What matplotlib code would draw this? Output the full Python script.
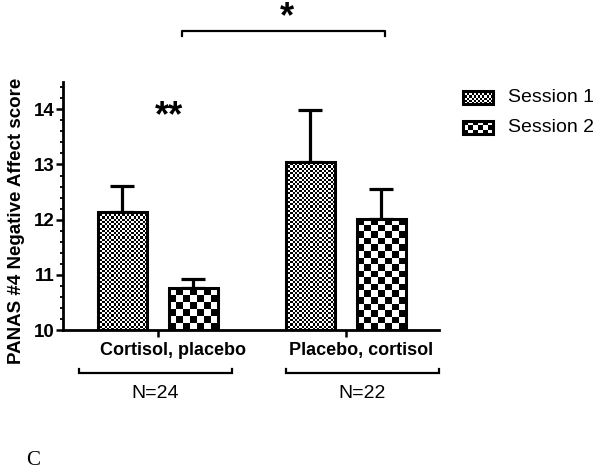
import numpy as np
import matplotlib
matplotlib.use('Agg')
from matplotlib import pyplot as plt
from matplotlib.patches import Rectangle
from matplotlib.ticker import MultipleLocator

groups = ['Cortisol, placebo', 'Placebo, cortisol']
group_n = ['N=24', 'N=22']
session1_mean = [12.13, 13.05]
session1_sem = [0.48, 0.93]
session2_mean = [10.76, 12.02]
session2_sem = [0.16, 0.53]
series_labels = ['Session 1', 'Session 2']

plt.rcParams['font.family'] = ['Liberation Sans', 'DejaVu Sans']

fig = plt.figure(figsize=(6.01, 4.73), dpi=100)
ax = fig.add_axes([63 / 601, 143 / 473, 376 / 601, 248.3 / 473])
ax.set_xlim(-0.505, 1.495)
ax.set_ylim(10, 14.5)
ax.set_autoscale_on(False)


def checker(ax, patch, cell_px, transform, zorder=2):
    # checkerboard fill clipped to a rectangle, cell size in pixels
    x0, y0 = patch.get_x(), patch.get_y()
    w, h = patch.get_width(), patch.get_height()
    p0 = transform.transform((x0, y0))
    p1 = transform.transform((x0 + w, y0 + h))
    nx = max(1, int(round(abs(p1[0] - p0[0]) / cell_px)))
    ny = max(1, int(round(abs(p1[1] - p0[1]) / cell_px)))
    ii, jj = np.meshgrid(np.arange(nx), np.arange(ny))
    arr = (ii + jj) % 2
    im = ax.imshow(arr, cmap='gray', vmin=0, vmax=1, interpolation='nearest',
                   extent=(x0, x0 + w, y0, y0 + h), origin='lower',
                   transform=transform, aspect='auto', zorder=zorder)
    im.set_clip_path(patch)
    return im


x = np.arange(len(groups))
width = 0.26
offset = 0.189
cells = [2.2, 6.7]

for k, (means, sems) in enumerate([(session1_mean, session1_sem),
                                   (session2_mean, session2_sem)]):
    pos = x + (offset if k else -offset)
    bars = ax.bar(pos, np.array(means) - 10, width=width, bottom=10,
                  facecolor='none', edgecolor='black', linewidth=2.2, zorder=3)
    for b in bars:
        checker(ax, b, cells[k], ax.transData)
    ax.errorbar(pos, means, yerr=[np.zeros(len(sems)), sems], fmt='none',
                ecolor='black', elinewidth=2.3, capsize=8.5, capthick=2.3, zorder=1)

ax.spines['top'].set_visible(False)
ax.spines['right'].set_visible(False)
ax.spines['left'].set_linewidth(2)
ax.spines['bottom'].set_linewidth(2)
ax.yaxis.set_major_locator(MultipleLocator(1))
ax.yaxis.set_minor_locator(MultipleLocator(0.2))
ax.tick_params(axis='y', which='major', length=5, width=1.8, labelsize=13.5, pad=1)
ax.tick_params(axis='y', which='minor', length=2.5, width=1.3)
for t in ax.get_yticklabels():
    t.set_fontweight('bold')
ax.set_xticks(x)
ax.set_xticklabels([])
ax.tick_params(axis='x', which='major', length=5, width=1.8)

fig.text(16.5 / 601, 1 - 221 / 473, 'PANAS #4 Negative Affect score',
         rotation=90, ha='center', va='center', fontsize=13.5, fontweight='bold')

# group labels, brackets, N
for i, g in enumerate(groups):
    ax.annotate(g, xy=(i + 0.08, 0), xycoords=('data', 'axes fraction'),
                xytext=(0, -15), textcoords='offset points', ha='center',
                va='center', fontsize=13, fontweight='bold')
br = [(-0.42, 0.394), (0.679, 1.495)]
for i, (a, b) in enumerate(br):
    ax.plot([a, a, b, b], [9.29, 9.224, 9.224, 9.29], color='black', lw=1.6,
            clip_on=False, solid_joinstyle='miter')
    ax.text((a + b) / 2, 8.85, group_n[i], ha='center', va='center', fontsize=14)

# significance
ax.plot([0.129, 0.129, 1.207, 1.207], [15.325, 15.415, 15.415, 15.325],
        color='black', lw=1.6, clip_on=False)
ax.text(0.685, 15.66, '*', ha='center', va='center', fontsize=26,
        fontweight='bold', clip_on=False)
ax.text(0.06, 13.87, '**', ha='center', va='center', fontsize=26,
        fontweight='bold')

# legend
def px2ax(px, py):
    return (px - 63) / 376, (330 - py) / 248.3

for k, lab in enumerate(series_labels):
    cy = 98 + 29.5 * k
    x0, y0 = px2ax(463, cy + 6.5)
    x1, y1 = px2ax(493, cy - 6.5)
    r = Rectangle((x0, y0), x1 - x0, y1 - y0, transform=ax.transAxes,
                  facecolor='none', edgecolor='black', linewidth=2.2,
                  clip_on=False, zorder=5)
    ax.add_patch(r)
    im = checker(ax, r, [2.2, 5][k], ax.transAxes, zorder=4)
    im.set_clip_on(True)
    tx, ty = px2ax(508, cy)
    ax.text(tx, ty, lab, transform=ax.transAxes, ha='left', va='center', fontsize=14)

fig.text(33 / 601, 1 - 460 / 473, 'C', ha='center', va='center', fontsize=15,
         family='Liberation Serif')

plt.savefig('out.png', dpi=100)
